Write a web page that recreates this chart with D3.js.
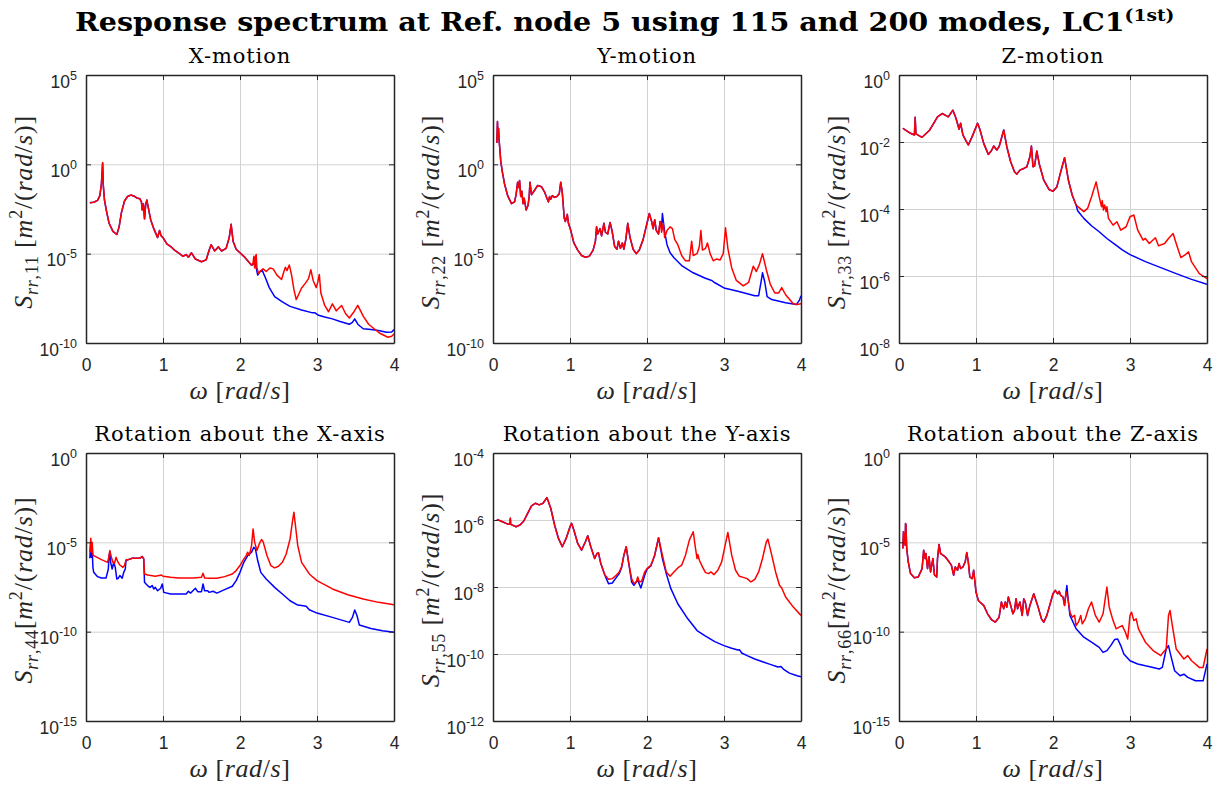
<!DOCTYPE html>
<html>
<head>
<meta charset="utf-8">
<script src="https://cdn.jsdelivr.net/npm/d3@7"></script>
<style>
  body { margin: 0; background: #fff; }
  svg { display: block; }
</style>
</head>
<body>
<svg id="fig" width="1217" height="787"></svg>
<script>
// values are [omega (rad/s), log10 of S_rr]
// "Both" = part where 115 and 200 modes coincide, then the separate tails

const xMotionBoth = [[0.05,-2.15],[0.10,-2.12],[0.15,-2.02],[0.18,-1.75],[0.20,-1.1],[0.216,0.09],[0.225,-1.2],[0.24,-2.0],[0.27,-2.7],[0.30,-3.3],[0.35,-3.75],[0.40,-3.93],[0.43,-3.5],[0.46,-2.7],[0.50,-2.05],[0.54,-1.8],[0.58,-1.72],[0.62,-1.77],[0.66,-1.88],[0.70,-1.93],[0.72,-2.1],[0.73,-2.55],[0.745,-2.2],[0.76,-3.05],[0.775,-2.25],[0.79,-2.0],[0.81,-2.45],[0.84,-3.1],[0.88,-3.6],[0.93,-4.1],[0.955,-3.7],[0.975,-4.0],[1.0,-4.1],[1.05,-4.45],[1.1,-4.6],[1.15,-4.8],[1.2,-4.95],[1.26,-5.15],[1.3,-5.05],[1.33,-5.2],[1.37,-4.95],[1.42,-5.3],[1.5,-5.45],[1.56,-5.35],[1.6,-4.8],[1.625,-4.5],[1.67,-4.85],[1.72,-4.62],[1.76,-4.85],[1.82,-4.7],[1.86,-4.1],[1.885,-3.36],[1.91,-4.3],[1.95,-4.75],[2.0,-4.95],[2.05,-5.15],[2.1,-5.4],[2.15,-5.65]];
const xMotion115 = [[2.17,-5.6],[2.19,-5.45],[2.2,-5.6],[2.23,-6.2],[2.26,-6.0],[2.29,-5.95],[2.33,-6.35],[2.38,-6.9],[2.45,-7.4],[2.55,-7.7],[2.65,-7.95],[2.8,-8.15],[2.93,-8.3],[2.97,-8.3],[3.02,-8.45],[3.1,-8.55],[3.2,-8.65],[3.3,-8.8],[3.42,-8.95],[3.46,-8.85],[3.49,-8.65],[3.53,-8.95],[3.6,-9.2],[3.7,-9.25],[3.8,-9.3],[3.9,-9.4],[3.97,-9.38],[4.0,-9.25]];
const xMotion200 = [[2.17,-5.5],[2.18,-5.15],[2.19,-5.8],[2.2,-5.2],[2.21,-5.05],[2.22,-5.8],[2.24,-6.1],[2.27,-5.95],[2.3,-5.85],[2.34,-6.0],[2.39,-5.8],[2.43,-5.85],[2.48,-6.2],[2.54,-6.45],[2.57,-6.0],[2.59,-5.76],[2.61,-5.95],[2.64,-5.63],[2.67,-6.2],[2.7,-7.0],[2.73,-7.57],[2.76,-7.3],[2.8,-6.92],[2.85,-6.65],[2.89,-6.4],[2.92,-5.9],[2.95,-6.5],[2.99,-6.9],[3.01,-6.6],[3.03,-6.16],[3.05,-7.2],[3.1,-7.9],[3.15,-8.25],[3.2,-7.81],[3.25,-8.2],[3.32,-7.9],[3.37,-8.35],[3.42,-8.6],[3.48,-8.25],[3.53,-7.89],[3.6,-8.5],[3.67,-8.95],[3.73,-9.16],[3.81,-9.44],[3.92,-9.68],[3.97,-9.62],[4.0,-9.5]];

const yMotionBoth = [[0.05,1.2],[0.058,2.4],[0.065,1.5],[0.072,2.0],[0.08,1.3],[0.09,0.8],[0.1,0.2],[0.12,-0.4],[0.15,-1.1],[0.19,-1.75],[0.24,-2.2],[0.28,-2.1],[0.3,-1.7],[0.32,-1.0],[0.335,-1.3],[0.345,-0.9],[0.36,-1.8],[0.375,-1.5],[0.39,-2.2],[0.405,-1.9],[0.43,-2.55],[0.455,-2.3],[0.47,-1.8],[0.48,-1.0],[0.5,-1.7],[0.54,-1.45],[0.58,-1.18],[0.63,-1.25],[0.67,-1.55],[0.7,-1.9],[0.72,-2.1],[0.735,-1.8],[0.75,-1.95],[0.77,-1.75],[0.8,-1.85],[0.83,-1.8],[0.86,-1.65],[0.88,-1.0],[0.9,-1.6],[0.925,-3.0],[0.94,-3.2],[0.965,-2.8],[0.98,-3.3],[1.01,-3.7],[1.05,-4.4],[1.1,-4.8],[1.15,-5.1],[1.2,-5.2],[1.25,-5.15],[1.3,-4.8],[1.33,-4.3],[1.345,-3.5],[1.36,-3.9],[1.39,-3.6],[1.41,-4.0],[1.44,-3.3],[1.46,-3.8],[1.49,-3.9],[1.52,-3.25],[1.545,-3.7],[1.58,-4.6],[1.61,-4.75],[1.63,-4.3],[1.655,-4.7],[1.68,-4.4],[1.7,-4.75],[1.725,-4.2],[1.75,-3.3],[1.78,-4.1],[1.82,-4.75],[1.86,-5.0],[1.9,-4.8],[1.95,-4.2],[2.0,-3.3],[2.03,-2.75],[2.06,-3.2],[2.08,-3.6],[2.1,-3.1],[2.12,-3.7],[2.15,-3.9]];
const yMotion115 = [[2.17,-3.2],[2.19,-3.5],[2.2,-2.75],[2.23,-3.8],[2.26,-4.5],[2.3,-4.95],[2.35,-5.23],[2.46,-5.7],[2.6,-6.07],[2.75,-6.36],[2.84,-6.5],[2.87,-6.6],[3.0,-6.92],[3.18,-7.1],[3.4,-7.35],[3.45,-7.35],[3.48,-6.6],[3.5,-6.07],[3.53,-6.6],[3.56,-7.4],[3.62,-7.57],[3.8,-7.75],[3.94,-7.85],[3.98,-7.6],[4.0,-7.35]];
const yMotion200 = [[2.17,-3.2],[2.19,-3.8],[2.21,-3.3],[2.23,-4.1],[2.26,-3.7],[2.3,-3.5],[2.33,-3.6],[2.36,-4.2],[2.4,-4.5],[2.45,-5.1],[2.5,-5.4],[2.55,-5.4],[2.58,-4.3],[2.6,-5.1],[2.65,-5.0],[2.68,-4.6],[2.7,-3.7],[2.72,-4.8],[2.76,-4.7],[2.785,-4.4],[2.82,-5.0],[2.86,-5.4],[2.9,-5.3],[2.95,-5.35],[2.99,-5.0],[3.02,-3.55],[3.05,-4.7],[3.1,-5.8],[3.16,-6.5],[3.25,-6.8],[3.32,-6.6],[3.38,-5.7],[3.42,-6.0],[3.46,-5.6],[3.5,-5.0],[3.55,-5.9],[3.6,-6.7],[3.66,-7.2],[3.71,-7.2],[3.75,-6.9],[3.8,-7.3],[3.9,-7.8],[3.95,-7.85],[4.0,-7.8]];

const zMotionBoth = [[0.05,-1.59],[0.08,-1.64],[0.15,-1.74],[0.2,-1.79],[0.21,-1.26],[0.22,-1.76],[0.3,-1.86],[0.4,-1.64],[0.5,-1.25],[0.56,-1.15],[0.6,-1.2],[0.64,-1.25],[0.7,-1.05],[0.74,-1.29],[0.78,-1.62],[0.8,-1.44],[0.83,-1.79],[0.86,-1.92],[0.9,-2.09],[0.95,-1.84],[1.02,-1.44],[1.05,-1.62],[1.1,-2.04],[1.16,-2.37],[1.2,-2.26],[1.23,-2.12],[1.27,-2.24],[1.3,-2.14],[1.36,-1.64],[1.4,-2.14],[1.45,-2.59],[1.5,-2.89],[1.53,-2.96],[1.57,-2.84],[1.62,-2.79],[1.66,-2.74],[1.7,-2.44],[1.72,-2.12],[1.74,-2.74],[1.76,-2.72],[1.79,-2.27],[1.82,-2.64],[1.88,-3.14],[1.95,-3.42],[2.0,-3.47],[2.05,-3.34],[2.1,-2.89],[2.15,-2.47],[2.2,-3.14],[2.25,-3.59],[2.3,-3.88]];
const zMotion115 = [[2.32,-4.05],[2.4,-4.28],[2.5,-4.5],[2.6,-4.68],[2.7,-4.88],[2.8,-5.05],[2.9,-5.22],[3.0,-5.36],[3.2,-5.57],[3.4,-5.75],[3.6,-5.93],[3.8,-6.1],[4.0,-6.25]];
const zMotion200 = [[2.35,-3.98],[2.4,-4.08],[2.45,-3.98],[2.5,-3.64],[2.56,-3.19],[2.6,-3.64],[2.63,-3.93],[2.64,-3.75],[2.655,-4.03],[2.67,-3.88],[2.69,-4.08],[2.7,-3.93],[2.72,-4.28],[2.78,-4.48],[2.83,-4.38],[2.88,-4.63],[2.95,-4.53],[3.0,-4.23],[3.05,-4.18],[3.1,-4.63],[3.17,-4.93],[3.2,-4.88],[3.25,-5.03],[3.33,-4.86],[3.37,-5.1],[3.45,-5.03],[3.5,-4.88],[3.56,-4.73],[3.6,-5.03],[3.66,-5.45],[3.71,-5.38],[3.76,-5.28],[3.8,-5.58],[3.9,-5.93],[4.0,-6.08]];

const rotX115 = [[0.05,-5.89],[0.062,-4.99],[0.07,-5.84],[0.08,-5.37],[0.09,-6.4],[0.1,-6.68],[0.15,-6.92],[0.2,-7.0],[0.26,-7.0],[0.29,-6.49],[0.3,-5.74],[0.31,-5.52],[0.32,-6.12],[0.34,-6.49],[0.36,-6.12],[0.38,-6.4],[0.4,-7.05],[0.42,-7.01],[0.44,-6.86],[0.47,-7.01],[0.49,-6.68],[0.51,-6.49],[0.52,-6.02],[0.55,-5.97],[0.6,-5.89],[0.7,-5.89],[0.73,-5.8],[0.75,-5.93],[0.76,-7.24],[0.78,-7.33],[0.8,-7.42],[0.83,-7.52],[0.86,-7.42],[0.88,-7.61],[0.9,-7.52],[0.93,-7.71],[0.97,-7.57],[0.99,-7.33],[1.01,-7.8],[1.1,-7.89],[1.3,-7.89],[1.33,-7.74],[1.36,-7.84],[1.42,-7.57],[1.45,-7.76],[1.5,-7.76],[1.52,-7.33],[1.54,-7.71],[1.58,-7.71],[1.6,-7.8],[1.65,-7.74],[1.7,-7.84],[1.8,-7.65],[1.9,-7.46],[1.95,-7.14],[2.0,-6.68],[2.05,-6.12],[2.1,-5.74],[2.15,-5.55],[2.18,-5.27],[2.2,-5.37],[2.23,-6.02],[2.27,-6.68],[2.34,-7.05],[2.45,-7.52],[2.55,-7.89],[2.65,-8.27],[2.75,-8.51],[2.82,-8.55],[2.86,-8.58],[2.9,-8.77],[3.0,-8.96],[3.2,-9.2],[3.42,-9.48],[3.46,-9.2],[3.49,-8.79],[3.52,-9.11],[3.55,-9.63],[3.7,-9.82],[3.85,-9.95],[4.0,-10.04]];
const rotX200 = [[0.05,-5.55],[0.062,-4.77],[0.07,-5.55],[0.08,-4.99],[0.09,-5.7],[0.1,-5.74],[0.2,-5.97],[0.28,-6.12],[0.3,-5.74],[0.31,-5.46],[0.33,-5.84],[0.35,-6.12],[0.37,-6.17],[0.39,-5.84],[0.41,-6.06],[0.44,-6.27],[0.48,-6.4],[0.5,-6.3],[0.52,-5.98],[0.55,-5.97],[0.6,-5.89],[0.7,-5.89],[0.73,-5.8],[0.75,-5.93],[0.76,-6.77],[0.8,-6.83],[0.9,-6.9],[0.98,-6.83],[1.0,-6.9],[1.1,-6.96],[1.2,-7.0],[1.4,-7.0],[1.5,-6.96],[1.52,-6.73],[1.54,-7.0],[1.6,-7.01],[1.7,-7.01],[1.8,-6.92],[1.9,-6.77],[1.95,-6.58],[2.0,-6.3],[2.05,-5.93],[2.08,-5.74],[2.1,-5.55],[2.12,-5.74],[2.15,-5.18],[2.17,-4.25],[2.19,-4.99],[2.22,-5.46],[2.25,-5.09],[2.28,-4.84],[2.3,-4.96],[2.35,-5.74],[2.4,-6.3],[2.45,-6.43],[2.5,-6.34],[2.55,-6.12],[2.6,-5.65],[2.65,-4.81],[2.68,-3.87],[2.7,-3.31],[2.72,-4.06],[2.75,-5.18],[2.8,-6.12],[2.9,-6.77],[3.0,-7.14],[3.2,-7.61],[3.4,-7.93],[3.6,-8.17],[3.8,-8.36],[4.0,-8.49]];

const rotYBoth = [[0.05,-5.98],[0.1,-6.03],[0.2,-6.13],[0.22,-6.12],[0.225,-5.95],[0.23,-6.13],[0.3,-6.2],[0.35,-6.15],[0.4,-6.03],[0.45,-5.8],[0.5,-5.58],[0.55,-5.5],[0.6,-5.55],[0.65,-5.5],[0.7,-5.33],[0.75,-5.65],[0.8,-6.15],[0.85,-6.55],[0.9,-6.8],[0.95,-6.55],[1.0,-6.2],[1.02,-6.1],[1.05,-6.3],[1.1,-6.7],[1.15,-6.9],[1.2,-6.65],[1.23,-6.47],[1.27,-6.8],[1.32,-7.15],[1.35,-7.0],[1.37,-6.98],[1.4,-7.3],[1.45,-7.63]];
const rotY115 = [[1.5,-7.9],[1.55,-7.88],[1.6,-7.72],[1.64,-7.6],[1.67,-7.42],[1.7,-7.05],[1.73,-6.8],[1.76,-7.25],[1.8,-7.85],[1.83,-7.95],[1.86,-7.85],[1.88,-7.8],[1.92,-8.03],[1.97,-7.65],[2.0,-7.47],[2.05,-7.37],[2.1,-7.05],[2.15,-6.53],[2.2,-7.15],[2.25,-7.6],[2.31,-8.05],[2.4,-8.5],[2.53,-8.95],[2.65,-9.3],[2.75,-9.45],[2.88,-9.63],[3.0,-9.75],[3.1,-9.83],[3.18,-9.88],[3.2,-9.87],[3.23,-9.97],[3.3,-10.05],[3.4,-10.15],[3.5,-10.23],[3.6,-10.31],[3.7,-10.39],[3.74,-10.37],[3.77,-10.45],[3.85,-10.57],[3.95,-10.65],[4.0,-10.68]];
const rotY200 = [[1.5,-7.77],[1.55,-7.75],[1.6,-7.65],[1.64,-7.55],[1.67,-7.4],[1.7,-7.05],[1.73,-6.8],[1.76,-7.25],[1.8,-7.75],[1.83,-7.9],[1.86,-7.85],[1.88,-7.7],[1.9,-7.85],[1.93,-7.83],[1.97,-7.55],[2.0,-7.45],[2.05,-7.35],[2.1,-7.05],[2.15,-6.53],[2.2,-7.05],[2.25,-7.55],[2.3,-7.68],[2.35,-7.55],[2.4,-7.43],[2.45,-7.35],[2.5,-7.05],[2.55,-6.6],[2.6,-6.35],[2.63,-6.85],[2.65,-7.15],[2.66,-7.03],[2.68,-7.2],[2.72,-7.4],[2.76,-7.57],[2.8,-7.6],[2.83,-7.55],[2.87,-7.63],[2.92,-7.5],[2.97,-7.25],[3.02,-6.7],[3.05,-6.37],[3.1,-7.05],[3.15,-7.5],[3.2,-7.68],[3.26,-7.72],[3.3,-7.75],[3.35,-7.85],[3.4,-7.77],[3.45,-7.55],[3.5,-7.15],[3.55,-6.65],[3.57,-6.57],[3.62,-7.05],[3.67,-7.55],[3.72,-7.95],[3.75,-8.03],[3.8,-8.3],[3.9,-8.6],[4.0,-8.85]];

const rotZBoth = [[0.05,-5.34],[0.058,-4.41],[0.065,-5.06],[0.075,-4.5],[0.08,-5.16],[0.085,-3.94],[0.09,-4.03],[0.1,-5.34],[0.12,-6.09],[0.15,-6.75],[0.2,-6.98],[0.25,-6.94],[0.3,-6.47],[0.32,-5.44],[0.34,-5.91],[0.35,-5.63],[0.37,-6.47],[0.39,-5.81],[0.41,-6.66],[0.44,-5.91],[0.46,-6.81],[0.49,-6.94],[0.5,-5.91],[0.52,-5.12],[0.54,-5.63],[0.57,-5.72],[0.6,-5.81],[0.65,-6.09],[0.68,-6.28],[0.71,-6.84],[0.73,-6.38],[0.76,-6.56],[0.78,-6.19],[0.8,-6.47],[0.83,-6.38],[0.86,-6.09],[0.88,-5.57],[0.9,-6.09],[0.92,-6.94],[0.95,-7.03],[0.97,-6.56],[1.0,-7.78],[1.03,-8.25],[1.05,-8.34],[1.1,-8.53],[1.15,-9.0],[1.2,-9.32],[1.25,-9.47],[1.3,-9.19],[1.33,-8.34],[1.36,-8.72],[1.38,-8.34],[1.4,-8.63],[1.42,-8.06],[1.45,-8.53],[1.48,-9.0],[1.5,-8.81],[1.52,-8.16],[1.54,-8.72],[1.57,-8.34],[1.6,-9.09],[1.62,-8.16],[1.64,-8.34],[1.67,-9.09],[1.7,-8.53],[1.75,-7.88],[1.8,-8.53],[1.85,-9.28],[1.88,-9.47],[1.92,-9.09],[1.97,-8.34],[2.0,-7.88],[2.03,-7.69],[2.06,-7.88],[2.08,-7.74],[2.1,-7.97],[2.13,-8.06],[2.15,-8.53],[2.17,-7.78]];
const rotZ115 = [[2.18,-7.41],[2.2,-8.34],[2.22,-9.09],[2.3,-9.84],[2.4,-10.31],[2.5,-10.59],[2.6,-10.88],[2.65,-11.16],[2.7,-11.06],[2.75,-10.78],[2.8,-10.44],[2.84,-10.41],[2.88,-10.78],[2.92,-11.25],[3.0,-11.63],[3.1,-11.81],[3.2,-11.91],[3.3,-12.0],[3.38,-12.09],[3.42,-12.0],[3.47,-10.97],[3.5,-10.78],[3.53,-11.34],[3.58,-12.19],[3.65,-12.47],[3.7,-12.38],[3.75,-12.56],[3.85,-12.75],[3.95,-12.75],[4.0,-11.81]];
const rotZ200 = [[2.19,-8.06],[2.2,-8.34],[2.22,-8.91],[2.25,-9.19],[2.28,-9.09],[2.3,-9.66],[2.33,-9.47],[2.36,-9.09],[2.38,-9.56],[2.42,-9.28],[2.46,-8.72],[2.5,-8.34],[2.55,-9.09],[2.6,-9.47],[2.65,-9.0],[2.7,-7.5],[2.73,-8.63],[2.78,-9.38],[2.82,-9.84],[2.86,-9.75],[2.9,-9.66],[2.94,-10.03],[2.97,-10.41],[3.0,-9.09],[3.02,-8.91],[3.05,-9.38],[3.08,-9.28],[3.11,-9.84],[3.2,-10.59],[3.3,-11.06],[3.4,-11.34],[3.43,-11.16],[3.47,-10.97],[3.5,-9.09],[3.52,-8.81],[3.55,-9.66],[3.6,-10.97],[3.7,-11.53],[3.75,-11.34],[3.8,-11.63],[3.9,-12.0],[3.95,-12.0],[4.0,-10.97]];

// tick labels: omega values and decade exponents
const omegaTicks = [0, 1, 2, 3, 4];
const xMotionDecades = [-10, -5, 0, 5];
const yMotionDecades = [-10, -5, 0, 5];
const zMotionDecades = [-8, -6, -4, -2, 0];
const rotXDecades = [-15, -10, -5, 0];
const rotYDecades = [-12, -10, -8, -6, -4];
const rotZDecades = [-15, -10, -5, 0];

const panelTitles = ["X-motion", "Y-motion", "Z-motion",
  "Rotation about the X-axis", "Rotation about the Y-axis", "Rotation about the Z-axis"];
const panelIndex = ["11", "22", "33", "44", "55", "66"];

(function figure() {
  const svg = d3.select("#fig");
  const colX = [86, 493, 899];
  const rowY = [75, 453];
  const plotW = 308, plotH = 268;
  const axisColor = "#262626";
  const gridColor = "#d2d2d2";
  const tickFont = "'Liberation Sans', Arial, Helvetica, sans-serif";
  const serif = "'DejaVu Serif', serif";
  const mathFont = "'Liberation Serif', 'Times New Roman', serif";

  const panels = [
    {decades: xMotionDecades, s115: xMotionBoth.concat(xMotion115), s200: xMotionBoth.concat(xMotion200), gap: true},
    {decades: yMotionDecades, s115: yMotionBoth.concat(yMotion115), s200: yMotionBoth.concat(yMotion200), gap: true},
    {decades: zMotionDecades, s115: zMotionBoth.concat(zMotion115), s200: zMotionBoth.concat(zMotion200), gap: true},
    {decades: rotXDecades, s115: rotX115, s200: rotX200, gap: false},
    {decades: rotYDecades, s115: rotYBoth.concat(rotY115), s200: rotYBoth.concat(rotY200), gap: true},
    {decades: rotZDecades, s115: rotZBoth.concat(rotZ115), s200: rotZBoth.concat(rotZ200), gap: false}
  ];

  // main title, stretched to the width it has in the figure
  const title = svg.append("text")
    .attr("font-family", serif)
    .attr("font-weight", "bold")
    .attr("font-size", 26)
    .attr("fill", "#000");
  title.append("tspan").text("Response spectrum at Ref. node 5 using 115 and 200 modes, LC1");
  title.append("tspan").attr("dy", -10).attr("font-size", 17).text("(1st)");
  const tw = title.node().getComputedTextLength();
  title.attr("transform", "translate(75,31) scale(" + (1100 / tw) + ",1)");

  panels.forEach(function(p, i) {
    const left = colX[i % 3], top = rowY[Math.floor(i / 3)];
    const g = svg.append("g").attr("transform", "translate(" + left + "," + top + ")");

    const x = d3.scaleLinear().domain([0, 4]).range([0, plotW]);
    const y = d3.scaleLinear().domain(d3.extent(p.decades)).range([plotH, 0]);

    // grid
    g.append("g").selectAll("line").data(omegaTicks.slice(1, -1)).join("line")
      .attr("x1", d => x(d) + 0.5).attr("x2", d => x(d) + 0.5)
      .attr("y1", 0).attr("y2", plotH)
      .attr("stroke", gridColor).attr("stroke-width", 1);
    g.append("g").selectAll("line").data(p.decades.slice(1, -1)).join("line")
      .attr("y1", d => y(d) + 0.5).attr("y2", d => y(d) + 0.5)
      .attr("x1", 0).attr("x2", plotW)
      .attr("stroke", gridColor).attr("stroke-width", 1);

    // curves
    const clipId = "clip" + i;
    g.append("clipPath").attr("id", clipId).append("rect")
      .attr("width", plotW).attr("height", plotH);
    const line = d3.line().x(d => x(d[0])).y(d => y(d[1]));
    const curves = g.append("g").attr("clip-path", "url(#" + clipId + ")");
    curves.append("path").datum(p.s115)
      .attr("d", line).attr("fill", "none")
      .attr("stroke", "#0000ff").attr("stroke-width", 1.5).attr("stroke-linejoin", "round");
    curves.append("path").datum(p.s200)
      .attr("d", line).attr("fill", "none")
      .attr("stroke", "#ff0000").attr("stroke-width", 1.5).attr("stroke-linejoin", "round");

    // box with inward ticks
    const bottom = g.append("g")
      .attr("transform", "translate(0," + plotH + ")")
      .call(d3.axisBottom(x).tickValues(omegaTicks).tickSizeInner(-5).tickSizeOuter(0)
        .tickPadding(16).tickFormat(d3.format("d")));
    const leftAx = g.append("g")
      .call(d3.axisLeft(y).tickValues(p.decades).tickSizeInner(-5).tickSizeOuter(0).tickFormat(""));
    const topAx = g.append("g")
      .call(d3.axisTop(x).tickValues(omegaTicks).tickSizeInner(-5).tickSizeOuter(0).tickFormat(""));
    const rightAx = g.append("g")
      .attr("transform", "translate(" + plotW + ",0)")
      .call(d3.axisRight(y).tickValues(p.decades).tickSizeInner(-5).tickSizeOuter(0).tickFormat(""));

    [bottom, leftAx, topAx, rightAx].forEach(function(ax) {
      ax.select(".domain").attr("stroke", axisColor).attr("stroke-width", 1.5);
      ax.selectAll(".tick line").attr("stroke", axisColor).attr("stroke-width", 1);
    });

    bottom.selectAll(".tick text")
      .attr("font-family", tickFont).attr("font-size", 17.5).attr("fill", axisColor);

    // 10^k labels on the left axis
    leftAx.selectAll(".tick text").each(function(d) {
      const t = d3.select(this)
        .attr("x", -9).attr("y", 12).attr("dy", null)
        .attr("font-family", tickFont).attr("font-size", 17.5)
        .attr("fill", axisColor).attr("text-anchor", "end");
      t.append("tspan").text("10");
      t.append("tspan").attr("dy", -8).attr("font-size", 12.5).text(String(d));
    });

    // panel title
    g.append("text")
      .attr("x", plotW / 2).attr("y", -12)
      .attr("text-anchor", "middle")
      .attr("font-family", serif).attr("font-size", 21)
      .attr("letter-spacing", 0.9).attr("fill", "#000")
      .text(panelTitles[i]);

    // x label
    const xl = g.append("text")
      .attr("x", plotW / 2).attr("y", plotH + 56)
      .attr("text-anchor", "middle")
      .attr("font-family", mathFont).attr("font-size", 26)
      .attr("letter-spacing", 0.6).attr("fill", axisColor);
    xl.append("tspan").attr("font-style", "italic").text("ω");
    xl.append("tspan").text(" [");
    xl.append("tspan").attr("font-style", "italic").text("rad");
    xl.append("tspan").text("/");
    xl.append("tspan").attr("font-style", "italic").text("s");
    xl.append("tspan").text("]");

    // y label
    const yl = g.append("text")
      .attr("transform", "translate(-54," + (plotH / 2 + 3) + ") rotate(-90)")
      .attr("text-anchor", "middle")
      .attr("font-family", mathFont).attr("font-size", 26)
      .attr("letter-spacing", 0.8).attr("fill", axisColor);
    yl.append("tspan").attr("font-style", "italic").text("S");
    yl.append("tspan").attr("dy", 6).attr("font-size", 18).attr("font-style", "italic").text("rr");
    yl.append("tspan").attr("font-size", 18).text("," + panelIndex[i]);
    yl.append("tspan").attr("dy", -6).text(p.gap ? " [" : "[");
    yl.append("tspan").attr("font-style", "italic").text("m");
    yl.append("tspan").attr("dy", -10).attr("font-size", 18).text("2");
    yl.append("tspan").attr("dy", 10).text("/(");
    yl.append("tspan").attr("font-style", "italic").text("rad");
    yl.append("tspan").text("/");
    yl.append("tspan").attr("font-style", "italic").text("s");
    yl.append("tspan").text(")]");
  });
})();
</script>
</body>
</html>
